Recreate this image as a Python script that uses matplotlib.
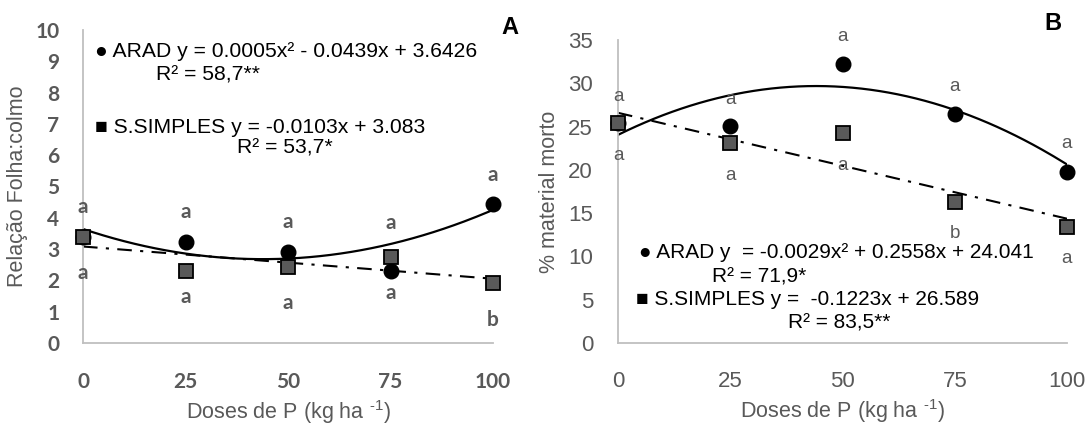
# Relação folha:colmo (A) e % material morto (B) em função das doses de P
import matplotlib.pyplot as plt
import numpy as np

plt.rcParams['font.family'] = ['Liberation Sans', 'DejaVu Sans']
plt.rcParams['mathtext.fontset'] = 'custom'
plt.rcParams['mathtext.rm'] = 'Liberation Sans'

# Доли P, кг/га
doses = [0, 25, 50, 75, 100]

# Панель A
arad_a = [3.4, 3.24, 2.92, 2.30, 4.45]
ss_a = [3.4, 2.31, 2.43, 2.75, 1.92]
# коэффициенты трендов (из подписей)
arad_a_coef = [0.0005, -0.0439, 3.6426]
ss_a_coef = [-0.0103, 3.083]
# буквы над/под точками
letters_a_top = ['a', 'a', 'a', 'a', 'a']
letters_a_top_y = [4.35, 4.2, 3.87, 3.83, 5.37]
letters_a_bot = ['a', 'a', 'a', 'a', 'b']
letters_a_bot_y = [2.24, 1.47, 1.28, 1.6, 0.73]

# Панель B
arad_b = [25.4, 25.1, 32.2, 26.4, 19.8]
ss_b = [25.4, 23.1, 24.3, 16.3, 13.4]
arad_b_coef = [-0.0029, 0.2558, 24.041]
ss_b_coef = [-0.1223, 26.589]
letters_b_top = ['a', 'a', 'a', 'a', 'a']
letters_b_top_y = [28.5, 28.1, 35.4, 29.6, 23.0]
letters_b_bot = ['a', 'a', 'a', 'b', 'a']
letters_b_bot_y = [21.7, 19.4, 20.5, 12.7, 9.8]

GRAY = '#595959'
W, H = 1089, 424
XLABEL = r'Doses de P (kg ha $^{\text{-1}}$)'

fig = plt.figure(figsize=(W / 100, H / 100), dpi=100)
ax1 = fig.add_axes([83 / W, 1 - 343 / H, 410 / W, 313 / H])
ax2 = fig.add_axes([618 / W, 1 - 343 / H, 449 / W, 303 / H])

xs = np.linspace(0, 100, 200)


def style_axes(ax, ylim, yticks, tick_font, tick_size, tick_weight, ypad, xpad):
    ax.set_xlim(0, 100)
    ax.set_ylim(*ylim)
    ax.set_xticks(doses)
    ax.set_yticks(yticks)
    for s in ('top', 'right'):
        ax.spines[s].set_visible(False)
    for s in ('left', 'bottom'):
        ax.spines[s].set_color('#BFBFBF')
        ax.spines[s].set_linewidth(1.3)
    ax.tick_params(length=0, colors=GRAY)
    ax.tick_params(axis='y', pad=ypad)
    ax.tick_params(axis='x', pad=xpad)
    for lab in ax.get_xticklabels() + ax.get_yticklabels():
        lab.set_family(tick_font)
        lab.set_fontsize(tick_size)
        lab.set_fontweight(tick_weight)


def draw(ax, arad, ss, arad_coef, ss_coef):
    ax.plot(xs, np.polyval(arad_coef, xs), c='k', lw=1.6, zorder=2)
    ax.plot(xs, np.polyval(ss_coef, xs), c='k', lw=1.5, ls=(0, (7, 4, 1.5, 4)), zorder=2)
    ax.plot(doses, arad, 'o', c='k', ms=10.5, zorder=3, clip_on=False)
    ax.plot(doses, ss, 's', mfc=GRAY, mec='k', mew=1.3, ms=10, zorder=4, clip_on=False)


# --- A ---
draw(ax1, arad_a, ss_a, arad_a_coef, ss_a_coef)
style_axes(ax1, (0, 10), range(0, 11), ['Lato', 'DejaVu Sans'], 15, 'bold', 17, 21)
for x, t, y in zip(doses, letters_a_top, letters_a_top_y):
    ax1.text(x, y, t, ha='center', va='center', color=GRAY, fontsize=15,
             fontweight='bold', family=['Lato', 'DejaVu Sans'])
for x, t, y in zip(doses, letters_a_bot, letters_a_bot_y):
    ax1.text(x, y, t, ha='center', va='center', color=GRAY, fontsize=15,
             fontweight='bold', family=['Lato', 'DejaVu Sans'])
ax1.text(2.9, 9.3, '● ARAD y = 0.0005x² - 0.0439x + 3.6426', va='center', fontsize=15.2)
ax1.text(17.8, 8.56, 'R² = 58,7**', va='center', fontsize=15.2)
ax1.text(2.9, 6.87, '■ S.SIMPLES y = -0.0103x + 3.083', va='center', fontsize=15.2)
ax1.text(37.6, 6.23, 'R² = 53,7*', va='center', fontsize=15.2)
ax1.set_ylabel('Relação Folha:colmo', color=GRAY, fontsize=15.5)
ax1.yaxis.set_label_coords(-0.134, 0.5)
ax1.set_xlabel(XLABEL, color=GRAY, fontsize=15.5)
ax1.xaxis.set_label_coords(0.5, -0.175)
fig.text(510 / W, 1 - 28 / H, 'A', ha='center', va='center', fontsize=17, fontweight='bold')

# --- B ---
draw(ax2, arad_b, ss_b, arad_b_coef, ss_b_coef)
style_axes(ax2, (0, 35), range(0, 36, 5), ['Liberation Sans'], 16, 'normal', 18, 20)
for x, t, y in zip(doses, letters_b_top, letters_b_top_y):
    ax2.text(x, y, t, ha='center', va='center', color=GRAY, fontsize=13.5, clip_on=False)
for x, t, y in zip(doses, letters_b_bot, letters_b_bot_y):
    ax2.text(x, y, t, ha='center', va='center', color=GRAY, fontsize=13.5)
ax2.text(4.7, 10.5, '● ARAD y  = -0.0029x² + 0.2558x + 24.041', va='center', fontsize=15)
ax2.text(20.9, 7.6, 'R² = 71,9*', va='center', fontsize=15)
ax2.text(4.0, 5.0, '■ S.SIMPLES y =  -0.1223x + 26.589', va='center', fontsize=15)
ax2.text(37.9, 2.3, 'R² = 83,5**', va='center', fontsize=15)
ax2.set_ylabel('% material morto', color=GRAY, fontsize=15.5)
ax2.yaxis.set_label_coords(-0.129, 0.5)
ax2.set_xlabel(XLABEL, color=GRAY, fontsize=15.5)
ax2.xaxis.set_label_coords(0.5, -0.18)
fig.text(1053 / W, 1 - 23 / H, 'B', ha='center', va='center', fontsize=17, fontweight='bold')

fig.savefig('out.png', dpi=100)
